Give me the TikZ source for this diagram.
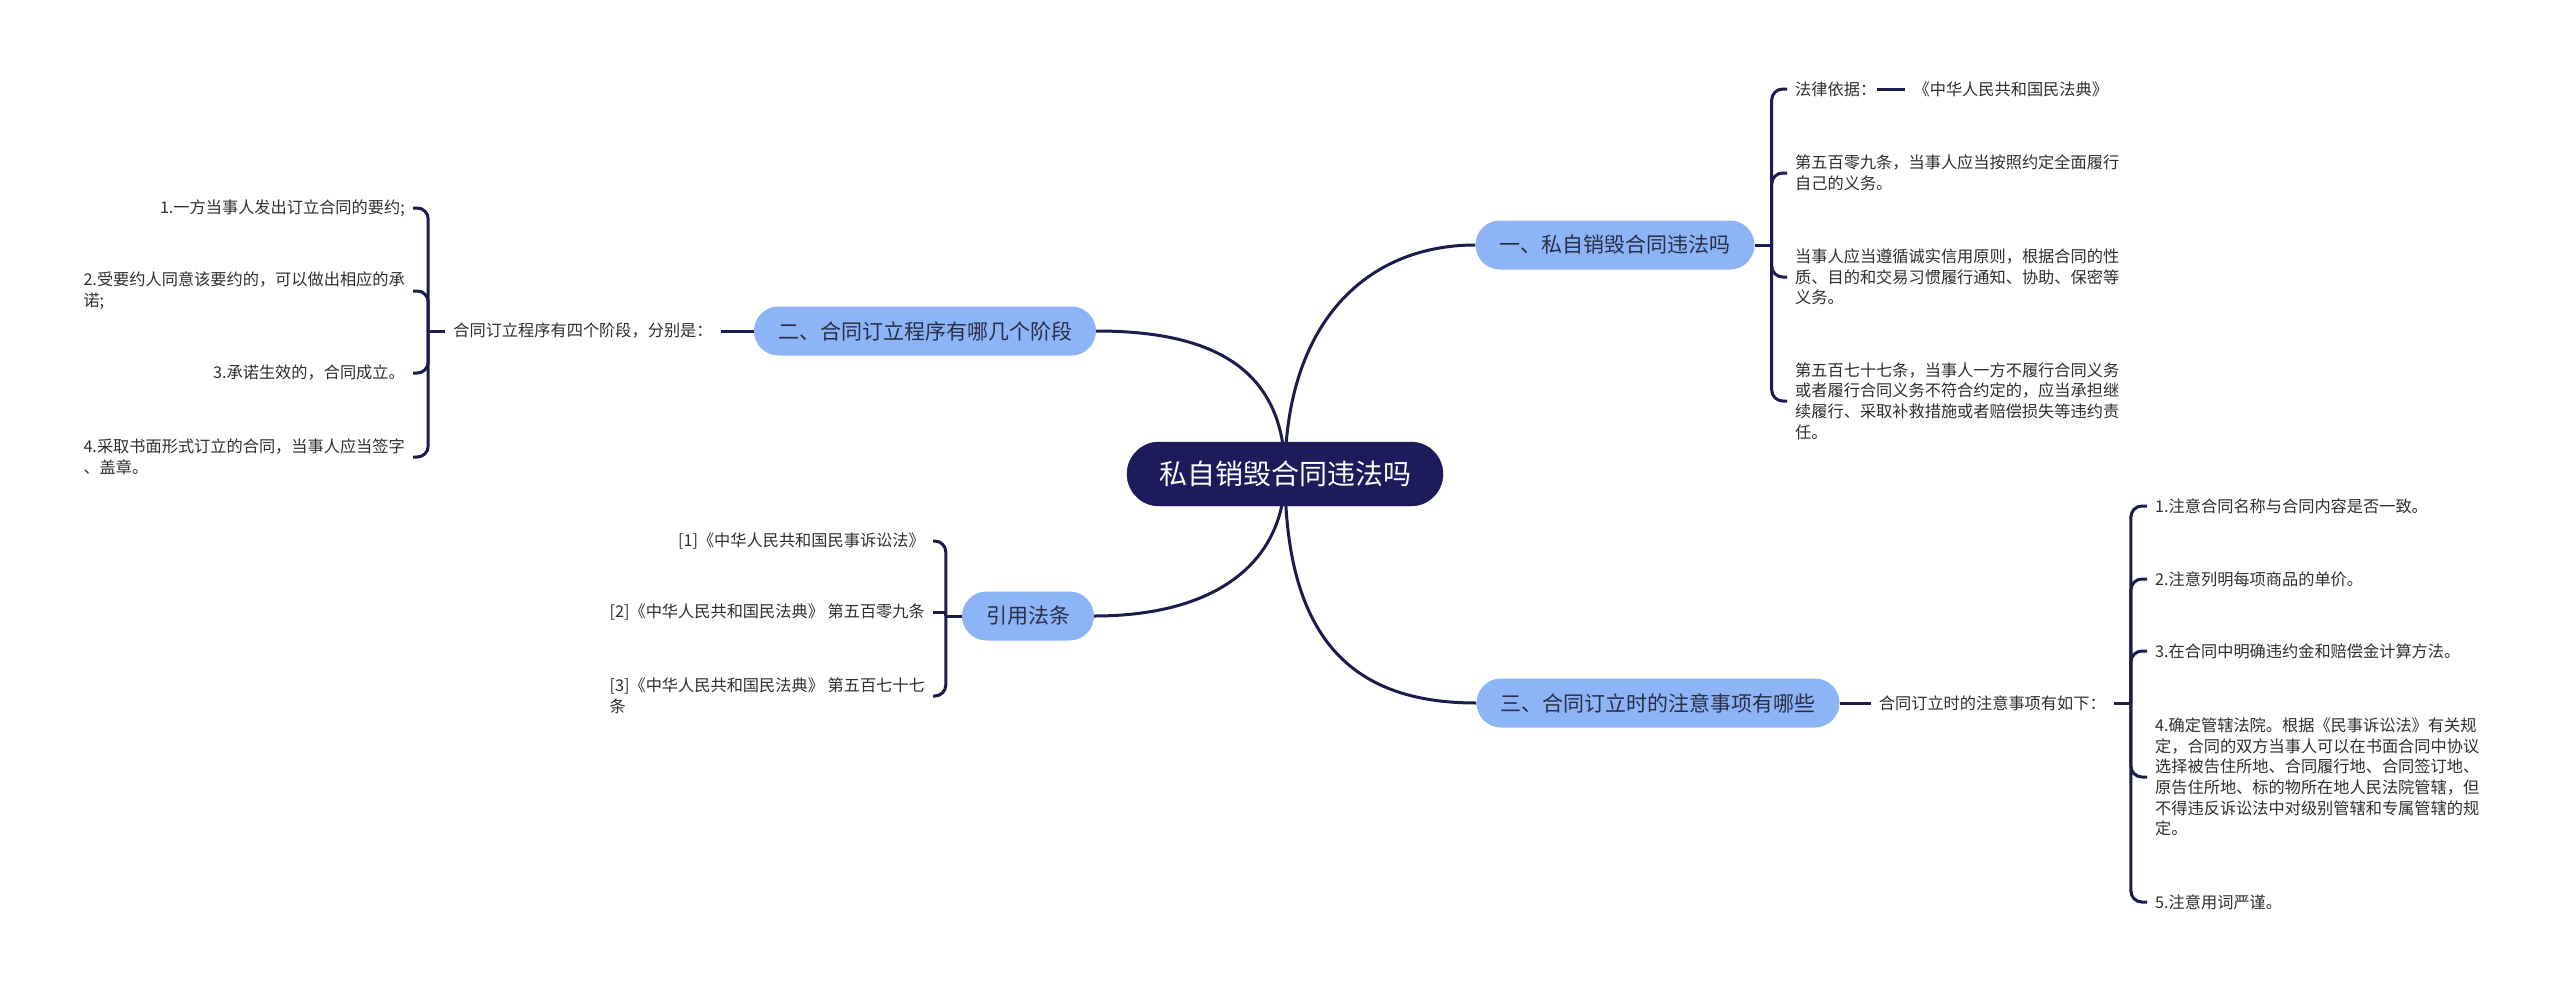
\documentclass[tikz,border=0pt]{standalone}
\usepackage{fontspec}
\setmainfont{Noto Sans CJK SC}
\usetikzlibrary{positioning,backgrounds}
\definecolor{hub}{HTML}{1D1B5C}
\definecolor{lnk}{HTML}{1B1B4D}
\definecolor{sky}{HTML}{8DB4F7}
\definecolor{ink}{HTML}{2A2E45}
\definecolor{txt}{HTML}{2E2E2E}
\newcommand{\leaffont}{\fontsize{16.2}{20.7}\selectfont}
\tikzset{
  root/.style={fill=hub,draw=hub,text=white,rounded corners=32pt,minimum height=64pt,inner xsep=32pt,font=\fontsize{28}{34}\selectfont},
  topic/.style={fill=sky,draw=none,text=ink,rounded corners=24.5pt,minimum height=49pt,inner xsep=24pt,font=\fontsize{21}{26}\selectfont},
  leaf/.style={text=txt,align=left,inner xsep=8pt,inner ysep=2pt,font=\leaffont},
  link/.style={draw=lnk,line width=3pt},
  hook/.style={link,rounded corners=11pt},
}
\begin{document}
\begin{tikzpicture}[x=1pt,y=-1pt]
\useasboundingbox (0,0) rectangle (2560,989);
% centre and main topics
\node[root] (c) at (1285,474) {私自销毁合同违法吗};
\node[topic] (b1) at (1615,245) {一、私自销毁合同违法吗};
\node[topic] (b2) at (925,331) {二、合同订立程序有哪几个阶段};
\node[topic] (q) at (1028,616) {引用法条};
\node[topic] (b3) at (1658,703) {三、合同订立时的注意事项有哪些};
\begin{scope}[on background layer]
\draw[link] (c.center) .. controls +(0,-150) and +(-110,0) .. (b1.west);
\draw[link] (c.center) .. controls +(0,-110) and +(110,0) .. (b2.east);
\draw[link] (c.center) .. controls +(0,90) and +(120,0) .. (q.east);
\draw[link] (c.center) .. controls +(0,170) and +(-120,0) .. (b3.west);
\end{scope}
% topic one
\coordinate[right=17pt of b1] (j1);
\node[leaf,anchor=west] (r1) at (1787,89) {法律依据：};
\node[leaf,right=21pt of r1] (code) {《中华人民共和国民法典》};
\node[leaf,anchor=west] (r2) at (1787,173) {第五百零九条，当事人应当按照约定全面履行\\自己的义务。};
\node[leaf,anchor=west] (r3) at (1787,277) {当事人应当遵循诚实信用原则，根据合同的性\\质、目的和交易习惯履行通知、协助、保密等\\义务。};
\node[leaf,anchor=west] (r4) at (1787,401) {第五百七十七条，当事人一方不履行合同义务\\或者履行合同义务不符合约定的，应当承担继\\续履行、采取补救措施或者赔偿损失等违约责\\任。};
\draw[link] (b1.east) -- (j1);
\draw[link,shorten <=-7pt] (r1) -- (code);
\foreach \n in {r1,r2,r3,r4}
  \draw[hook] (j1) |- (\n.west);
% topic two
\node[leaf,left=33pt of b2] (s2) {合同订立程序有四个阶段，分别是：};
\coordinate[left=17pt of s2] (j2);
\node[leaf,anchor=east] (l1) at (413,208) {1.一方当事人发出订立合同的要约;};
\node[leaf,anchor=east] (l2) at (413,291) {2.受要约人同意该要约的，可以做出相应的承\\诺;};
\node[leaf,anchor=east] (l3) at (413,373) {3.承诺生效的，合同成立。};
\node[leaf,anchor=east] (l4) at (413,457) {4.采取书面形式订立的合同，当事人应当签字\\、盖章。};
\draw[link] (b2.west) -- (s2.east);
\draw[link] (s2.west) -- (j2);
\foreach \n in {l1,l2,l3,l4}
  \draw[hook] (j2) |- (\n.east);
% cited articles
\coordinate[left=16pt of q] (j4);
\node[leaf,anchor=east] (q1) at (933,541) {[1]《中华人民共和国民事诉讼法》};
\node[leaf,anchor=east] (q2) at (933,612) {[2]《中华人民共和国民法典》 第五百零九条};
\node[leaf,anchor=east] (q3) at (933,696) {[3]《中华人民共和国民法典》 第五百七十七\\条};
\draw[link] (q.west) -- (j4);
\draw[hook] (j4) |- (q1.east);
\draw[link] (j4) |- (q2.east);
\draw[hook] (j4) |- (q3.east);
% topic three
\node[leaf,right=31pt of b3] (s3) {合同订立时的注意事项有如下：};
\coordinate[right=17pt of s3] (j3);
\node[leaf,anchor=west] (t1) at (2147,506) {1.注意合同名称与合同内容是否一致。};
\node[leaf,anchor=west] (t2) at (2147,579) {2.注意列明每项商品的单价。};
\node[leaf,anchor=west] (t3) at (2147,651) {3.在合同中明确违约金和赔偿金计算方法。};
\node[leaf,anchor=west] (t4) at (2147,777) {4.确定管辖法院。根据《民事诉讼法》有关规\\定，合同的双方当事人可以在书面合同中协议\\选择被告住所地、合同履行地、合同签订地、\\原告住所地、标的物所在地人民法院管辖，但\\不得违反诉讼法中对级别管辖和专属管辖的规\\定。};
\node[leaf,anchor=west] (t5) at (2147,902) {5.注意用词严谨。};
\draw[link] (b3.east) -- (s3.west);
\draw[link] (s3.east) -- (j3);
\foreach \n in {t1,t2,t3,t4,t5}
  \draw[hook] (j3) |- (\n.west);
\end{tikzpicture}
\end{document}
